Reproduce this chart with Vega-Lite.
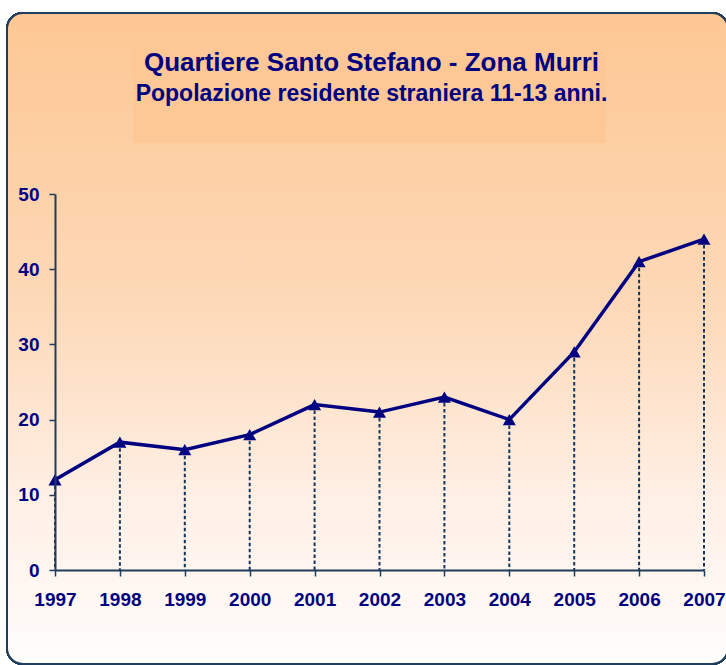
{
  "$schema": "https://vega.github.io/schema/vega-lite/v6.json",
  "width": 649,
  "height": 376,
  "autosize": {"type": "none"},
  "padding": {"left": 55, "top": 194, "right": 22, "bottom": 95},
  "background": "white",
  "config": {
    "view": {"stroke": null},
    "axis": {
      "domainColor": "#1f3d5c", "domainWidth": 2,
      "tickColor": "#1f3d5c", "tickWidth": 1.5, "tickSize": 6,
      "labelColor": "#000080", "labelFont": "Liberation Sans", "labelFontWeight": "bold", "labelFontSize": 19,
      "grid": false
    }
  },
  "title": {
    "text": "Quartiere Santo Stefano - Zona Murri",
    "subtitle": "Popolazione residente straniera 11-13 anni.",
    "anchor": "middle", "frame": "group", "offset": -94, "dx": -8, "zindex": 1,
    "font": "Liberation Sans", "fontSize": 26, "fontWeight": "bold", "color": "#000080",
    "subtitleFont": "Liberation Sans", "subtitleFontSize": 23, "subtitleFontWeight": "bold", "subtitleColor": "#000080",
    "subtitlePadding": 7
  },
  "data": {"values": [
    {"year": 1997, "value": 12},
    {"year": 1998, "value": 17},
    {"year": 1999, "value": 16},
    {"year": 2000, "value": 18},
    {"year": 2001, "value": 22},
    {"year": 2002, "value": 21},
    {"year": 2003, "value": 23},
    {"year": 2004, "value": 20},
    {"year": 2005, "value": 29},
    {"year": 2006, "value": 41},
    {"year": 2007, "value": 44}
  ]},
  "layer": [
    {
      "mark": {"type": "rect", "cornerRadius": 16, "stroke": "#1f3d5c", "strokeWidth": 2,
        "fill": {"gradient": "linear", "x1": 0, "y1": 0, "x2": 0, "y2": 1,
          "stops": [{"offset": 0, "color": "#fdc793"}, {"offset": 0.45, "color": "#fdd9b8"}, {"offset": 0.75, "color": "#fff0e6"}, {"offset": 1, "color": "#fffdfc"}]}},
      "encoding": {"x": {"value": -48}, "x2": {"value": 673}, "y": {"value": -181}, "y2": {"value": 470}}
    },
    {
      "mark": {"type": "rect", "fill": "#fdc896"},
      "encoding": {"x": {"value": 78}, "x2": {"value": 551}, "y": {"value": -146}, "y2": {"value": -51}}
    },
    {
      "mark": {"type": "rule", "strokeDash": [3.5, 2.5], "strokeWidth": 2, "color": "#14365a"},
      "encoding": {
        "x": {"field": "year", "type": "quantitative", "scale": {"domain": [1997, 2007], "nice": false, "zero": false},
          "axis": {"zindex": 2, "title": null, "values": [1997,1998,1999,2000,2001,2002,2003,2004,2005,2006,2007], "format": "d", "labelFlush": false, "labelPadding": 14}},
        "y": {"field": "value", "type": "quantitative", "scale": {"domain": [0, 50]},
          "axis": {"zindex": 2, "title": null, "values": [0,10,20,30,40,50], "labelPadding": 10}},
        "y2": {"datum": 0}
      }
    },
    {
      "mark": {"type": "line", "color": "#000080", "strokeWidth": 3.5},
      "encoding": {
        "x": {"field": "year", "type": "quantitative"},
        "y": {"field": "value", "type": "quantitative"}
      }
    },
    {
      "mark": {"type": "point", "shape": "triangle-up", "filled": true, "opacity": 1, "color": "#000080", "size": 170},
      "encoding": {
        "x": {"field": "year", "type": "quantitative"},
        "y": {"field": "value", "type": "quantitative"}
      }
    }
  ]
}
